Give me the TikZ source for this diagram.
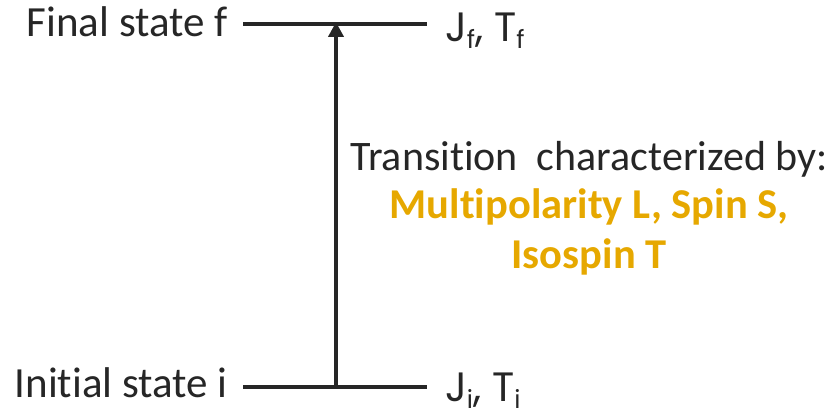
\documentclass[tikz,border=0pt]{standalone}
\usepackage{fontspec}
\setmainfont[Ligatures=NoCommon]{Carlito}
\newfontfamily\jtfont{Poppins}
\usetikzlibrary{arrows.meta}
\definecolor{ink}{RGB}{38,38,38}
\definecolor{gold}{RGB}{230,168,0}
\newcommand{\qsub}[1]{\raisebox{-7pt}{\fontsize{25}{25}\selectfont #1}}
\tikzset{
  level/.style={draw=ink, line width=4.5pt},
  trans/.style={draw=ink, line width=4pt, -{Triangle[width=15pt,length=15pt]}},
  lbl/.style={text=ink, inner sep=0pt, font=\fontsize{43}{50}\selectfont},
  qn/.style={text=ink, inner sep=0pt, font=\jtfont\fontsize{41}{46}\selectfont},
  gl/.style={text=gold, inner sep=0pt, font=\bfseries\fontsize{42.5}{50}\selectfont},
}
\begin{document}
\begin{tikzpicture}[x=1pt,y=1pt]
\useasboundingbox (0,0) rectangle (838,416);
% levels
\coordinate (fl) at (243,392);
\coordinate (fr) at (427,392);
\coordinate (il) at (243,29);
\coordinate (ir) at (427,29);
\coordinate (fm) at (336,394);
\coordinate (im) at (336,29);
\draw[level] (fl) -- (fr);
\draw[level] (il) -- (ir);
\draw[trans] (im) -- (fm);
% labels
\node[lbl, anchor=base east] (fs) at (228,379) {Final state f};
\node[lbl, anchor=base east] (is) at (228,19) {Initial state i};
\node[qn, anchor=base west] (jf) at (445,374) {J\qsub{f}, T\qsub{f}};
\node[qn, anchor=base west] (ji) at (445,15) {J\qsub{i}, T\qsub{i}};
\node[lbl, anchor=base, font=\fontsize{42}{50}\selectfont] (tr) at (589,246) {Transition\ \ characterized by:};
\node[gl, anchor=base] (m1) at (589,198) {Multipolarity L, Spin S,};
\node[gl, anchor=base] (m2) at (589,148) {Isospin T};
\end{tikzpicture}
\end{document}
